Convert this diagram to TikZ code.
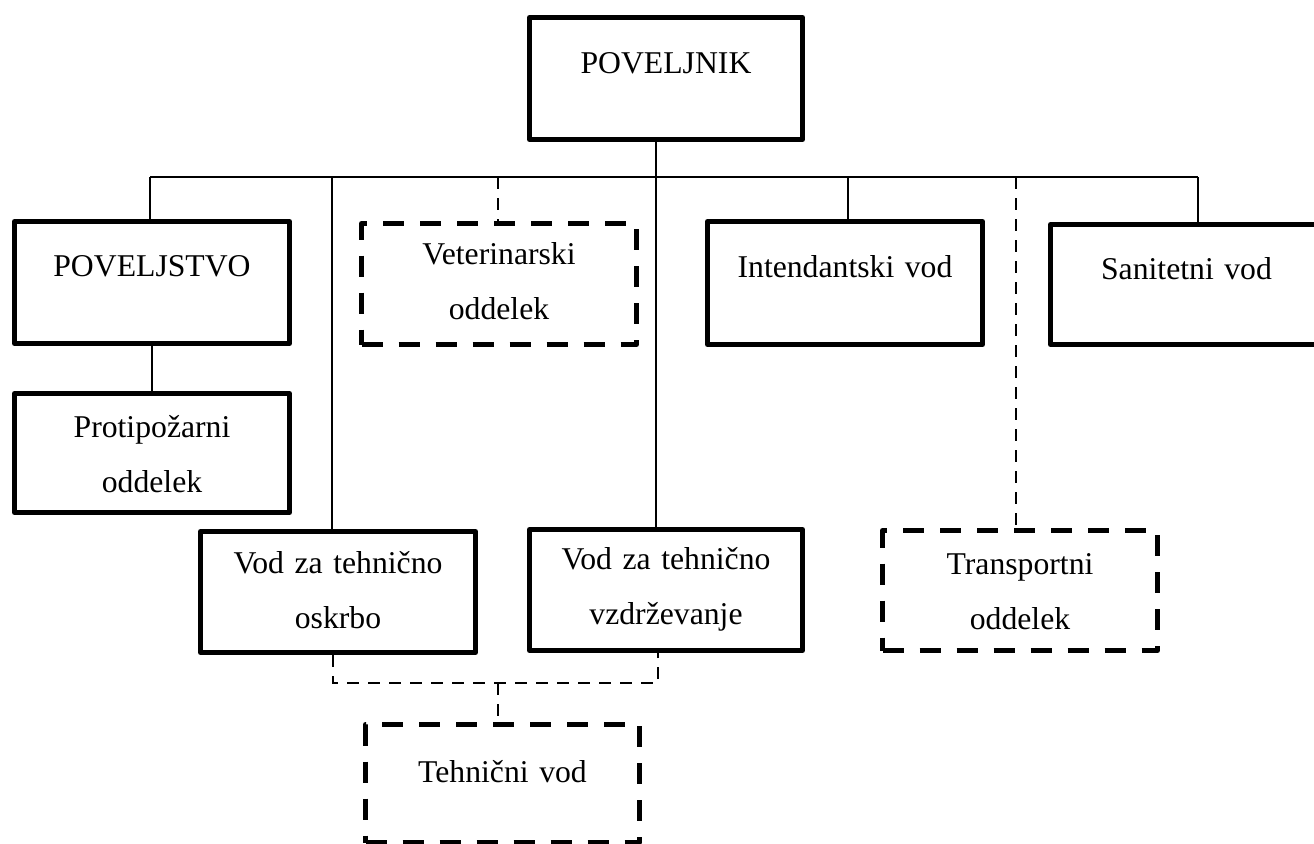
\documentclass[tikz,border=0pt]{standalone}
\usepackage{fontspec}
\setmainfont{Liberation Serif}
\begin{document}
\begin{tikzpicture}[x=1pt,y=-1pt,
  base/.style={inner sep=0pt, align=center, anchor=north west, line join=round,
    font=\fontsize{31.7}{55}\selectfont, text width=275pt},
  sbox/.style={base, draw, line width=5pt},
  dbox/.style={base, draw, line width=5pt, dash pattern=on 21pt off 16pt},
  conn/.style={line width=2.6pt},
  dconn/.style={line width=2.6pt, dash pattern=on 12pt off 9pt}]
\useasboundingbox (0,0) rectangle (1314,843);
\clip (0,0) rectangle (1314,843);
% boxes
\node[sbox, text width=273pt, text height=56pt, text depth=66pt] (pk) at (527,15) {POVELJNIK};
\node[sbox, text height=55pt, text depth=67pt] (pv) at (12,219) {POVELJSTVO};
\node[sbox, text height=44pt, text depth=75pt] (pp) at (12,391) {Protipožarni\\oddelek};
\node[dbox, text height=41pt, text depth=80pt] (vet) at (359,221) {Veterinarski\\oddelek};
\node[sbox, text height=56pt, text depth=67pt] (int) at (705,219) {Intendantski vod};
\node[sbox, text width=272pt, text height=55pt, text depth=65pt] (san) at (1048,222) {Sanitetni vod};
\node[sbox, text height=42pt, text depth=79pt] (vto) at (198,529) {Vod za tehnično\\oskrbo};
\node[sbox, text width=273pt, text height=40pt, text depth=81pt] (vtv) at (527,527) {Vod za tehnično\\vzdrževanje};
\node[dbox, text height=44pt, text depth=76pt] (tra) at (880,528) {Transportni\\oddelek};
\node[dbox, text width=274pt, text height=58pt, text depth=60pt] (teh) at (363,722) {Tehnični vod};
% bus coordinates
\coordinate (c1) at (150,177);
\coordinate (c2) at (332,177);
\coordinate (c3) at (498,177);
\coordinate (c4) at (656,177);
\coordinate (c5) at (848,177);
\coordinate (c6) at (1016,177);
\coordinate (c7) at (1198,177);
\coordinate (d1) at (333,683);
\coordinate (d2) at (658,683);
\coordinate (d3) at (498,683);
% connectors
\draw[conn] (c4 |- pk.south) -- (c4);
\draw[conn] (c1) -- (c7);
\draw[conn] (c1) -- (c1 |- pv.north);
\draw[conn] (pv.south) -- (pp.north);
\draw[conn] (c2) -- (c2 |- vto.north);
\draw[dconn] (c3) -- (c3 |- vet.north);
\draw[conn] (c4) -- (c4 |- vtv.north);
\draw[conn] (c5) -- (c5 |- int.north);
\draw[dconn] (c6) -- (c6 |- tra.north);
\draw[conn] (c7) -- (c7 |- san.north);
\draw[dconn] (d1 |- vto.south) -- (d1) -- (d2) -- (d2 |- vtv.south);
\draw[dconn] (d3) -- (d3 |- teh.north);
\end{tikzpicture}
\end{document}
